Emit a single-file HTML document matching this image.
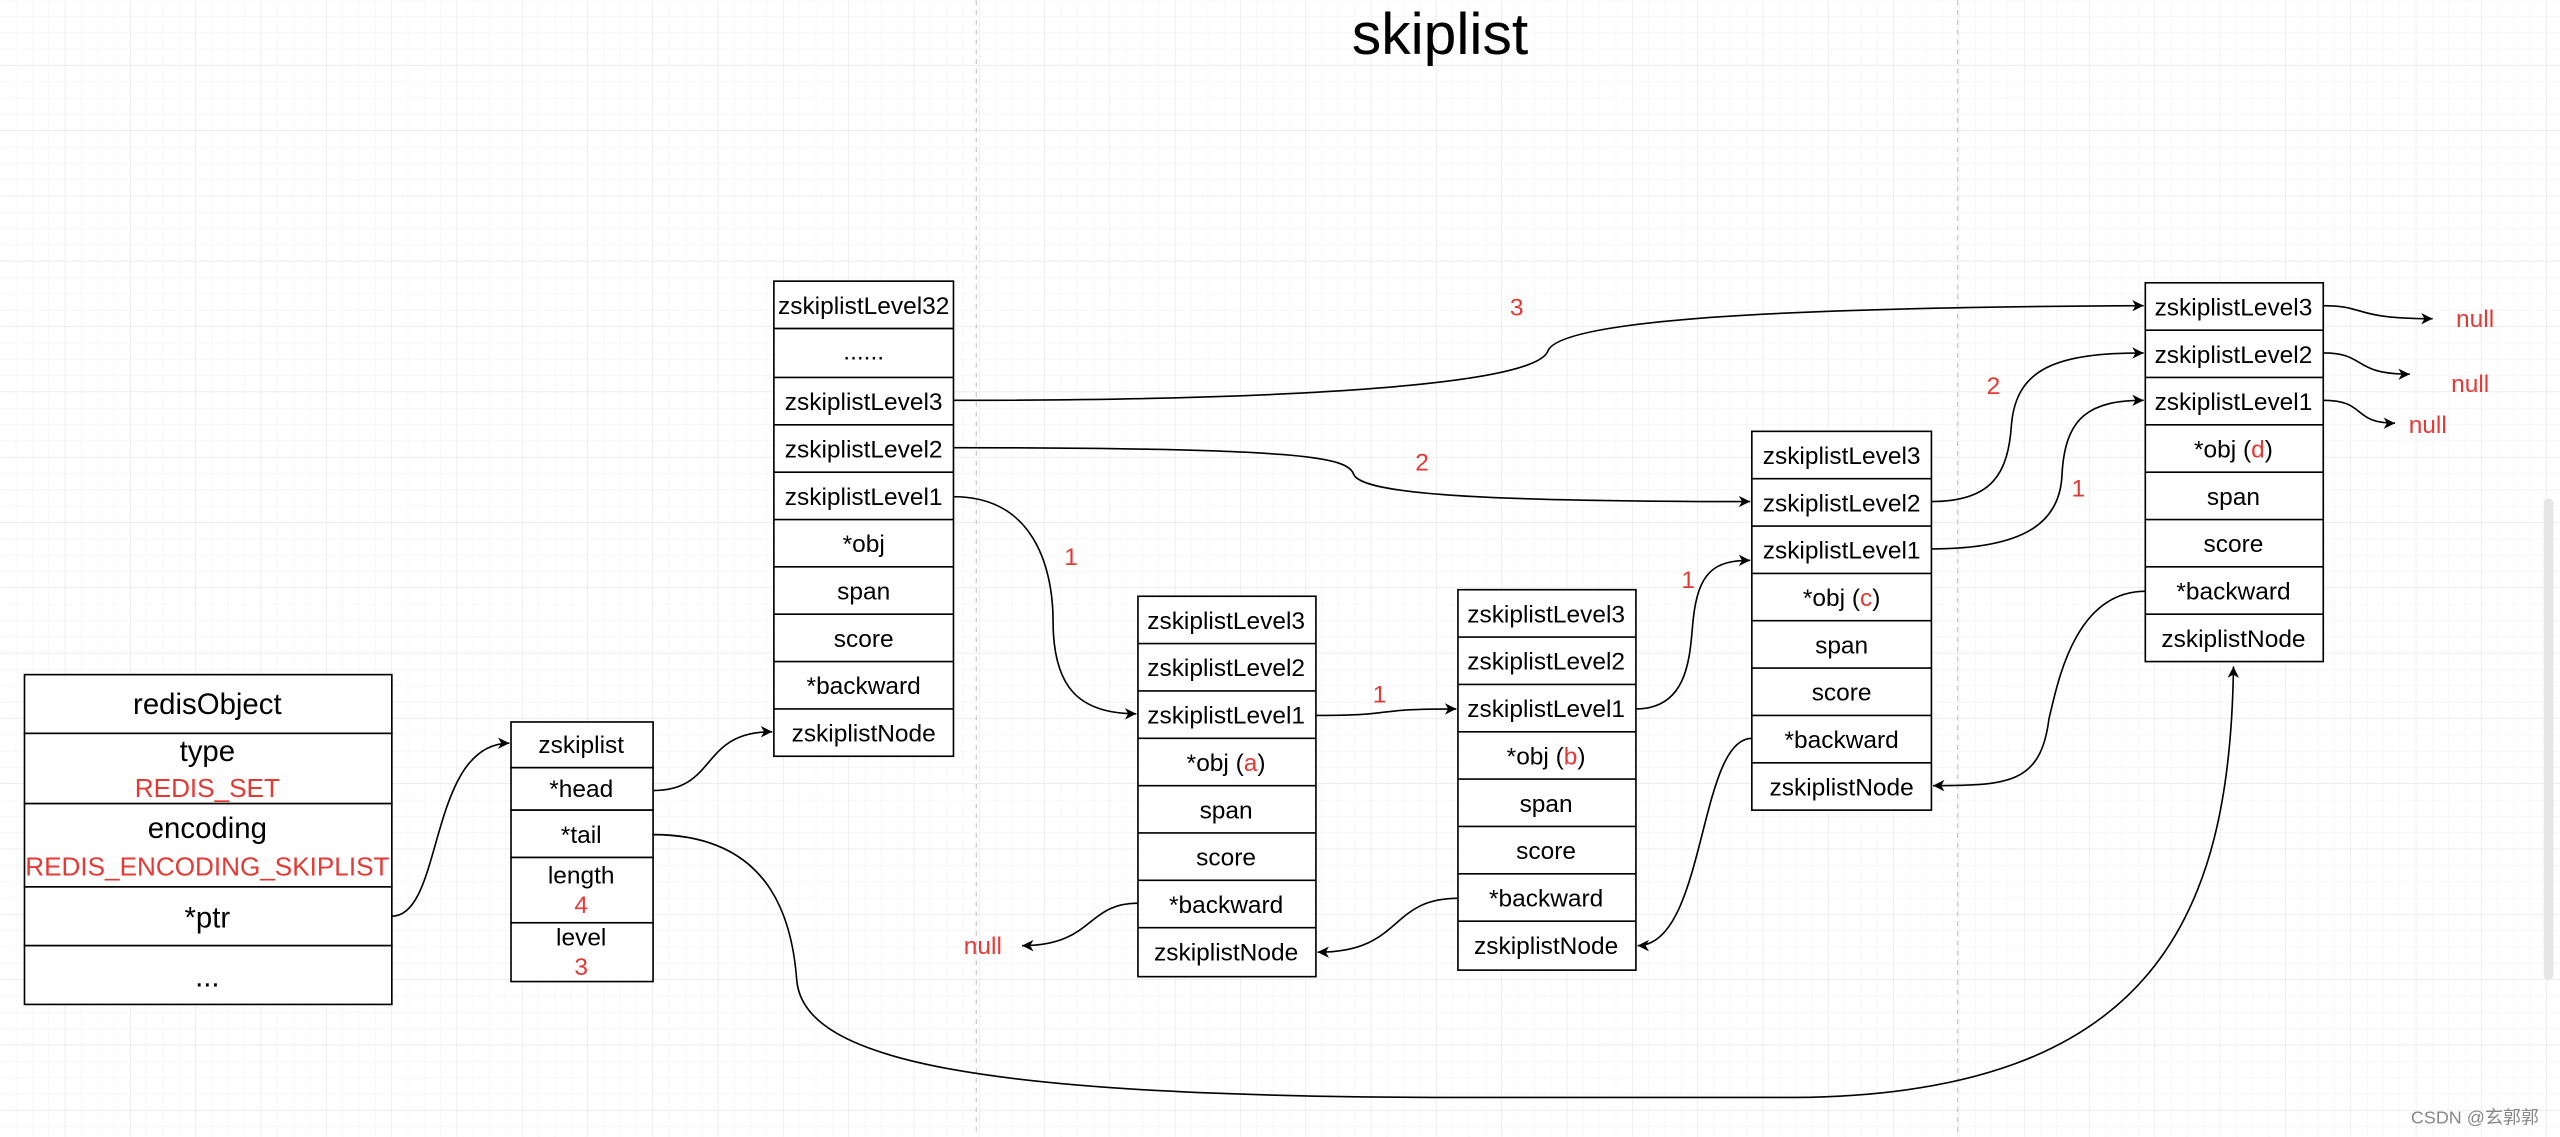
<!DOCTYPE html>
<html><head><meta charset="utf-8"><style>
html,body{margin:0;padding:0;background:#fff;}
svg{display:block;}
text{font-family:"Liberation Sans","Noto Sans CJK SC",sans-serif;}
</style></head><body>
<svg width="2560" height="1137" viewBox="0 0 1568 696" xmlns="http://www.w3.org/2000/svg">
<defs>
<pattern id="g1" width="10" height="10" patternUnits="userSpaceOnUse"><path d="M10 0V10H0" fill="none" stroke="#f1f1f1" stroke-width="0.6"/></pattern>
<pattern id="g2" width="40" height="40" patternUnits="userSpaceOnUse"><rect width="40" height="40" fill="url(#g1)"/><path d="M40 0V40H0" fill="none" stroke="#e3e3e3" stroke-width="0.7"/></pattern>
<marker id="ar" markerWidth="8" markerHeight="8" refX="7" refY="4" orient="auto" markerUnits="userSpaceOnUse"><path d="M0 0.5L7 4L0 7.5L2 4Z" fill="#000"/></marker>
</defs>
<rect width="1568" height="696" fill="#fff"/>
<rect width="1568" height="696" fill="url(#g2)"/>
<line x1="598" y1="0" x2="598" y2="696" stroke="#ccc" stroke-width="0.8" stroke-dasharray="3,3"/>
<line x1="1199" y1="0" x2="1199" y2="696" stroke="#ccc" stroke-width="0.8" stroke-dasharray="3,3"/>
<rect x="1558" y="305" width="6" height="295" rx="3" fill="#e6e6e6"/>
<text x="882" y="33" font-size="36" text-anchor="middle">skiplist</text>

<g fill="#fff" stroke="#000" stroke-width="1">
<!-- redisObject -->
<rect x="15" y="413" width="225" height="36"/><rect x="15" y="449" width="225" height="43"/><rect x="15" y="492" width="225" height="51"/><rect x="15" y="543" width="225" height="36"/><rect x="15" y="579" width="225" height="36"/>
<!-- zskiplist -->
<rect x="313" y="442" width="87" height="28"/><rect x="313" y="470" width="87" height="26"/><rect x="313" y="496" width="87" height="29"/><rect x="313" y="525" width="87" height="40"/><rect x="313" y="565" width="87" height="36"/>
</g>
<g font-size="18" text-anchor="middle">
<text x="127" y="437">redisObject</text>
<text x="127" y="466">type</text>
<text x="127" y="488" fill="#e53935" font-size="16">REDIS_SET</text>
<text x="127" y="513">encoding</text>
<text x="127" y="536" fill="#e53935" font-size="16">REDIS_ENCODING_SKIPLIST</text>
<text x="127" y="568">*ptr</text>
<text x="127" y="604">...</text>
</g>
<g font-size="15" text-anchor="middle">
<text x="356" y="461">zskiplist</text>
<text x="356" y="488">*head</text>
<text x="356" y="516">*tail</text>
<text x="356" y="541">length</text>
<text x="356" y="559" fill="#e53935">4</text>
<text x="356" y="579">level</text>
<text x="356" y="597" fill="#e53935">3</text>
</g>

<!-- nodes -->
<g fill="#fff" stroke="#000" stroke-width="1">
<rect x="474" y="172" width="110" height="291"/>
<path d="M474 201H584M474 231H584M474 260H584M474 289H584M474 318H584M474 347H584M474 376H584M474 405H584M474 434H584"/>
<rect x="697" y="365" width="109" height="233"/>
<path d="M697 394H806M697 423H806M697 452H806M697 481H806M697 510H806M697 539H806M697 568H806"/>
<rect x="893" y="361" width="109" height="233"/>
<path d="M893 390H1002M893 419H1002M893 448H1002M893 477H1002M893 506H1002M893 535H1002M893 564H1002"/>
<rect x="1073" y="264" width="110" height="232"/>
<path d="M1073 293H1183M1073 322H1183M1073 351H1183M1073 380H1183M1073 409H1183M1073 438H1183M1073 467H1183"/>
<rect x="1314" y="173" width="109" height="232"/>
<path d="M1314 202H1423M1314 231H1423M1314 260H1423M1314 289H1423M1314 318H1423M1314 347H1423M1314 376H1423"/>
</g>
<g font-size="15" text-anchor="middle">
<text x="529" y="192">zskiplistLevel32</text><text x="529" y="220">......</text><text x="529" y="251">zskiplistLevel3</text><text x="529" y="280">zskiplistLevel2</text><text x="529" y="309">zskiplistLevel1</text><text x="529" y="338">*obj</text><text x="529" y="367">span</text><text x="529" y="396">score</text><text x="529" y="425">*backward</text><text x="529" y="454">zskiplistNode</text>

<text x="751" y="385">zskiplistLevel3</text><text x="751" y="414">zskiplistLevel2</text><text x="751" y="443">zskiplistLevel1</text><text x="751" y="472">*obj (<tspan fill="#e53935">a</tspan>)</text><text x="751" y="501">span</text><text x="751" y="530">score</text><text x="751" y="559">*backward</text><text x="751" y="588">zskiplistNode</text>

<text x="947" y="381">zskiplistLevel3</text><text x="947" y="410">zskiplistLevel2</text><text x="947" y="439">zskiplistLevel1</text><text x="947" y="468">*obj (<tspan fill="#e53935">b</tspan>)</text><text x="947" y="497">span</text><text x="947" y="526">score</text><text x="947" y="555">*backward</text><text x="947" y="584">zskiplistNode</text>

<text x="1128" y="284">zskiplistLevel3</text><text x="1128" y="313">zskiplistLevel2</text><text x="1128" y="342">zskiplistLevel1</text><text x="1128" y="371">*obj (<tspan fill="#e53935">c</tspan>)</text><text x="1128" y="400">span</text><text x="1128" y="429">score</text><text x="1128" y="458">*backward</text><text x="1128" y="487">zskiplistNode</text>

<text x="1368" y="193">zskiplistLevel3</text><text x="1368" y="222">zskiplistLevel2</text><text x="1368" y="251">zskiplistLevel1</text><text x="1368" y="280">*obj (<tspan fill="#e53935">d</tspan>)</text><text x="1368" y="309">span</text><text x="1368" y="338">score</text><text x="1368" y="367">*backward</text><text x="1368" y="396">zskiplistNode</text>
</g>

<!-- connectors -->
<g fill="none" stroke="#000" stroke-width="1" marker-end="url(#ar)">
<path d="M240 561C272 561 262 455 312 455"/>
<path d="M400 484C440 484 428 448 473 448"/>
<path d="M400 511C470 511 485 560 488 600C492 650 600 672 900 672L1100 672C1320 670 1366 560 1368 408"/>
<path d="M584 245C800 245 940 235 948 215C955 195 1100 188 1313 187"/>
<path d="M584 274C800 274 825 280 829 290C833 302 900 307 1072 307"/>
<path d="M584 304C640 304 645 360 645 380C645 420 660 437 696 437"/>
<path d="M806 438C860 438 835 434 892 434"/>
<path d="M1002 434C1035 434 1035 400 1037 380C1040 350 1050 343 1072 343"/>
<path d="M1183 307C1220 307 1230 290 1232 260C1235 225 1260 216 1313 216"/>
<path d="M1183 336C1240 336 1262 320 1263 290C1265 255 1280 245 1313 245"/>
<path d="M1423 187C1450 187 1440 195 1490 195"/>
<path d="M1423 216C1450 216 1440 229 1476 229"/>
<path d="M1423 245C1450 245 1440 259 1467 259"/>
<path d="M697 553C665 553 670 579 626 579"/>
<path d="M893 550C850 550 860 583 807 583"/>
<path d="M1073 452C1040 452 1045 579 1003 579"/>
<path d="M1314 362C1270 362 1260 420 1255 440C1250 480 1230 481 1184 481"/>
</g>
<g font-size="15" fill="#e53935" text-anchor="middle">
<text x="929" y="193">3</text>
<text x="871" y="288">2</text>
<text x="656" y="346">1</text>
<text x="845" y="430">1</text>
<text x="1034" y="360">1</text>
<text x="1221" y="241">2</text>
<text x="1273" y="304">1</text>
<text x="1516" y="200">null</text>
<text x="1513" y="240">null</text>
<text x="1487" y="265">null</text>
<text x="602" y="584">null</text>
</g>
<text x="1555" y="688" font-size="11" fill="#888" text-anchor="end">CSDN @玄郭郭</text>
</svg>
</body></html>
